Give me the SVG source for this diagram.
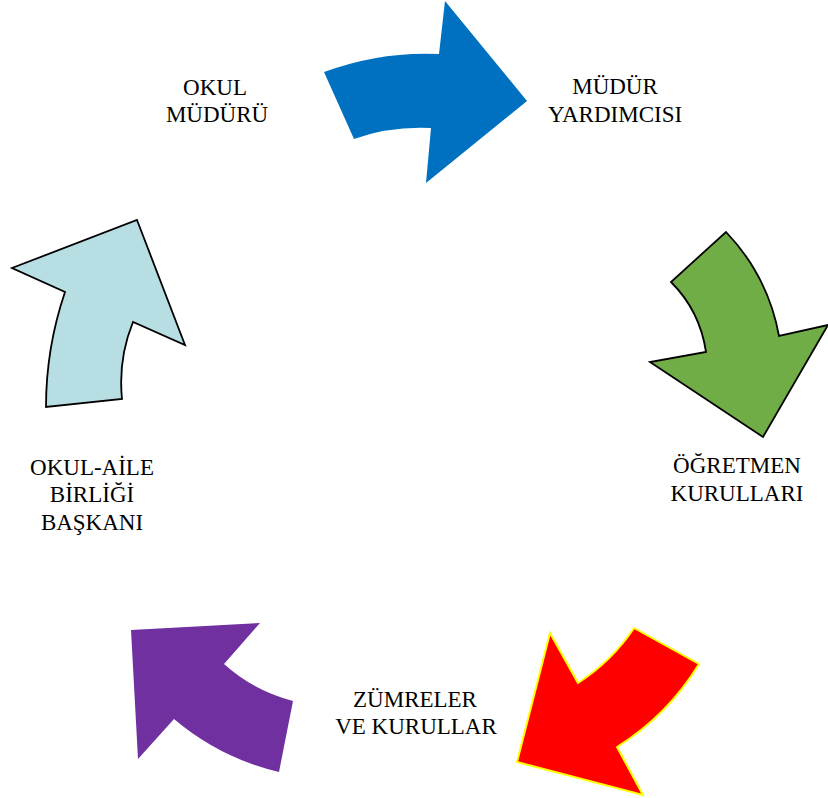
<svg xmlns="http://www.w3.org/2000/svg" width="828" height="798" viewBox="0 0 828 798">
<style>
text{font-family:"Liberation Serif","Times New Roman",serif;font-size:23px;fill:#000;text-anchor:middle}
.blk{stroke:#000;stroke-width:1.8;stroke-linejoin:miter}
</style>
<rect width="828" height="798" fill="#fff"/>
<g id="connectors">
<path id="arrow-blue" d="M324,72 Q381,51 439,54 L445,1 L527,101 L426,183 L431,128 Q390,126 354,139 Z" fill="#0070C0"/>
<path id="arrow-green" class="blk" d="M726,232 Q768,276 779,336 L828,325 L763,437 L650,362 L706,352 Q700,311 671,282 Z" fill="#70AD47"/>
<path id="arrow-red" d="M634,628 L699,664 Q668,715 617,747 L643,795 L517,762 L550,633 L578,683 Q612,661 634,628 Z" fill="#FF0000" stroke="#FFFF00" stroke-width="2"/>
<path id="arrow-purple" d="M131,630 L260,623 L224,664 Q254,691 293,701 L279,772 Q220,758 174,719 L138,759 Z" fill="#7030A0"/>
<path id="arrow-lightblue" class="blk" d="M137,220 L185,345 L133,322 Q118,359 122,399 L46,407 Q46,348 65,292 L12,268 Z" fill="#B7DEE3"/>
</g>
<g id="node-okul-muduru">
<text x="215" y="95">OKUL</text>
<text x="217" y="122">MÜDÜRÜ</text>
</g>
<g id="node-mudur-yardimcisi">
<text x="615" y="94">MÜDÜR</text>
<text x="615" y="122">YARDIMCISI</text>
</g>
<g id="node-ogretmen-kurullari">
<text x="737" y="473">ÖĞRETMEN</text>
<text x="737" y="501">KURULLARI</text>
</g>
<g id="node-zumreler">
<text x="415" y="707">ZÜMRELER</text>
<text x="416" y="734">VE KURULLAR</text>
</g>
<g id="node-okul-aile">
<text x="92" y="475">OKUL-AİLE</text>
<text x="92" y="502">BİRLİĞİ</text>
<text x="92" y="530">BAŞKANI</text>
</g>
</svg>
